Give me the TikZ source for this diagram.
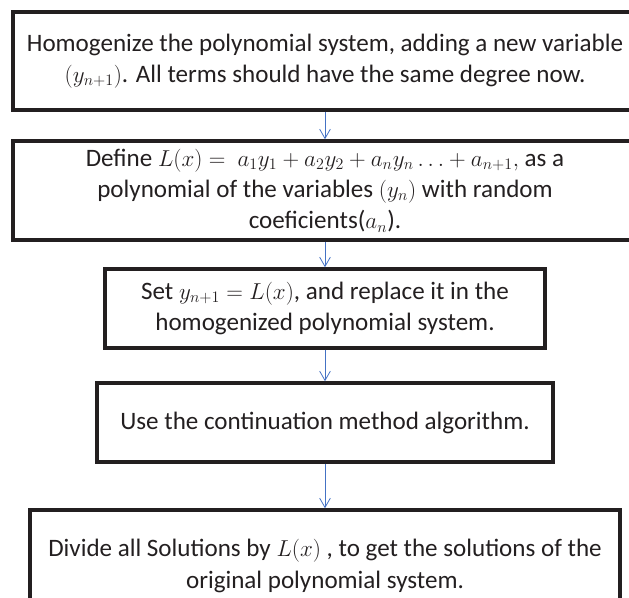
\documentclass[tikz,border=0pt]{standalone}
\usepackage{fontspec}
\setmainfont{Carlito}
\usetikzlibrary{arrows.meta}
\definecolor{flowblue}{RGB}{68,114,196}
\definecolor{boxline}{RGB}{35,31,32}
\begin{document}
\begin{tikzpicture}
    [x=0.75pt,y=-0.75pt,
    stepbox/.style={draw=boxline,line width=2.6pt,align=center,inner sep=0pt,
        text=boxline,font=\fontsize{18.8}{23.5}\selectfont},
    flow/.style={draw=flowblue,line width=0.6pt,-{Straight Barb[length=7pt,width=8pt]}}]
    %frame
    \useasboundingbox (0,0) rectangle (629,597);
    \clip (0,0) rectangle (629,597);
    %boxes
    \node[stepbox,minimum width=468pt,minimum height=73.5pt] (homog) at (325,61)
    {Homogenize the polynomial system, adding a new variable\\
    $(y_{n+1})$. All terms should have the same degree now.};
    \node[stepbox,minimum width=468pt,minimum height=74.25pt] (define) at (325,190.5)
    {Define $L(x) =\ a_1y_1 + a_2y_2 + a_ny_n \ldots + a_{n+1},$ as a\\
    polynomial of the variables $(y_n)$ with random\\
    coeficients($a_n$).};
    \node[stepbox,minimum width=330pt,minimum height=59.25pt] (replace) at (325,308.5)
    {Set $y_{n+1} = L(x)$, and replace it in the\\
    homogenized polynomial system.};
    \node[stepbox,minimum width=342pt,minimum height=59.25pt] (contin) at (325,422.5)
    {Use the continuation method algorithm.};
    \node[stepbox,minimum width=442.5pt,minimum height=84pt] (divide) at (325,566)
    {Divide all Solutions by $L(x)$ , to get the solutions of the\\
    original polynomial system.};
    %arrows
    \draw[flow] (homog) -- (define);
    \draw[flow] (define) -- (replace);
    \draw[flow] (replace) -- (contin);
    \draw[flow] (contin) -- (divide);
\end{tikzpicture}
\end{document}
